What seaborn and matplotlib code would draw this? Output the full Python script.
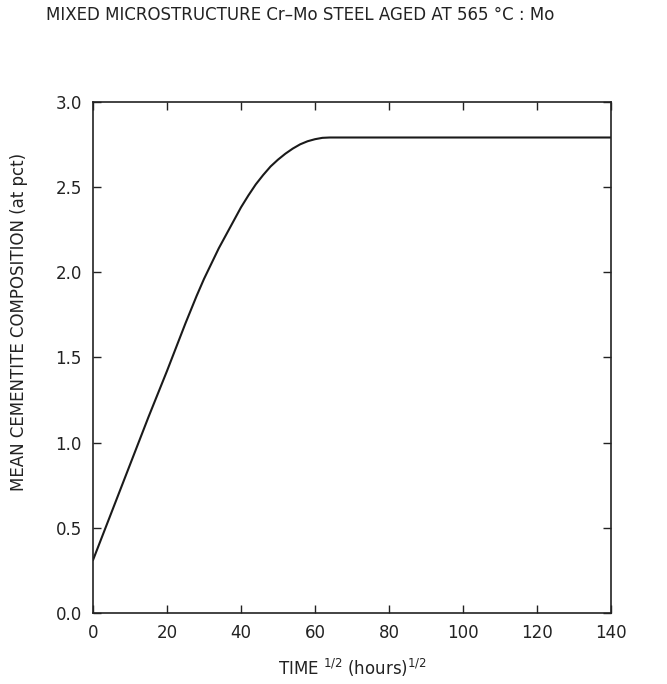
import matplotlib
matplotlib.use("Agg")
import matplotlib.pyplot as plt
import seaborn as sns
import pandas as pd

# data
time_sqrt = [0, 5, 10, 15, 20, 25, 28, 30, 32, 34, 36, 38, 40, 42, 44, 46, 48,
             50, 52, 54, 56, 58, 60, 62, 64, 70, 100, 140]
mo_pct = [0.31, 0.59, 0.87, 1.15, 1.42, 1.70, 1.86, 1.96, 2.05, 2.14, 2.22, 2.30,
          2.38, 2.45, 2.515, 2.57, 2.62, 2.66, 2.695, 2.725, 2.75, 2.768, 2.78,
          2.788, 2.79, 2.79, 2.79, 2.79]
x_ticks = [0, 20, 40, 60, 80, 100, 120, 140]
y_ticks = [0.0, 0.5, 1.0, 1.5, 2.0, 2.5, 3.0]

sns.set_style("ticks")
plt.rcParams['font.family'] = ['DejaVu Sans']

df = pd.DataFrame({"t": time_sqrt, "c": mo_pct})

fig = plt.figure(figsize=(6.67, 6.84), dpi=100)
ax = fig.add_axes([0.1394, 0.1038, 0.7766, 0.7475])

sns.lineplot(data=df, x="t", y="c", ax=ax, color="#1a1a1a", linewidth=1.5)

ax.set_xlim(0, 140)
ax.set_ylim(0, 3.0)
ax.set_xticks(x_ticks)
ax.set_yticks(y_ticks)
ax.set_xticklabels([str(v) for v in x_ticks])
ax.set_yticklabels([f"{v:.1f}" for v in y_ticks])

for s in ax.spines.values():
    s.set_visible(True)
    s.set_linewidth(1.2)
    s.set_color("#222222")

ax.tick_params(axis="both", which="major", direction="in", length=6, width=1.0,
               top=True, right=True, labelsize=12, colors="#222222", pad=8)

ax.set_xlabel(r"TIME $^{1/2}$ (hours)$^{1/2}$", fontsize=12, color="#222222")
ax.set_ylabel("MEAN CEMENTITE COMPOSITION (at pct)", fontsize=12, color="#222222")
ax.xaxis.set_label_coords(0.5, -0.085)
ax.yaxis.set_label_coords(-0.125, 0.57)

fig.text(0.45, 0.978, "MIXED MICROSTRUCTURE Cr\u2013Mo STEEL AGED AT 565 \u00b0C : Mo",
         ha="center", va="center", fontsize=12, color="#222222")

fig.savefig("out.png", dpi=100, facecolor="white")
